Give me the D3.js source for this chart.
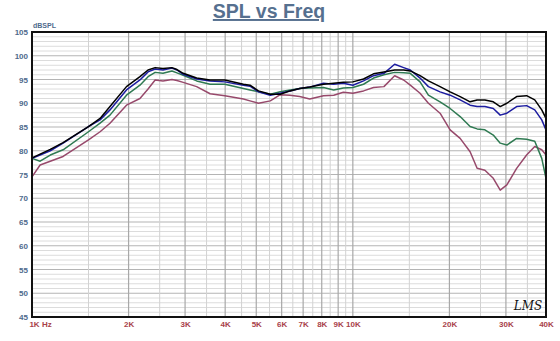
<!DOCTYPE html>
<html>
<head>
<meta charset="utf-8">
<script src="https://cdn.jsdelivr.net/npm/d3@7"></script>
<style>
  html, body { margin: 0; padding: 0; background: #fff; }
  svg { display: block; font-family: "Liberation Sans", Arial, sans-serif; }
</style>
</head>
<body>
<svg id="chart" width="560" height="341"></svg>
<script>
// Frequencies (kHz) at which each response is sampled
const freqsK = [1.0, 1.06, 1.14, 1.25, 1.5, 1.63, 1.75, 1.97, 2.17, 2.3, 2.42, 2.56, 2.73, 2.83, 2.96,
  3.26, 3.59, 3.99, 4.56, 4.78, 5.08, 5.53, 5.94, 6.37, 6.83, 7.34, 8.1, 8.72, 9.34, 10.0, 10.8,
  11.6, 12.5, 13.5, 14.4, 15.1, 16.2, 17.2, 18.7, 20.1, 21.6, 23.2, 24.4, 25.8, 27.4, 28.8, 30.2,
  32.4, 34.8, 36.9, 38.8, 40.0];

// SPL (dB) per curve
const splBlack = [78.5, 79.3, 80.3, 81.7, 85.1, 86.8, 89.3, 93.5, 95.6, 97.0, 97.5, 97.3, 97.5, 97.1, 96.3,
  95.3, 94.9, 94.9, 94.0, 93.8, 92.6, 91.9, 91.9, 92.6, 93.1, 93.4, 94.0, 94.2, 94.4, 94.5, 95.1,
  96.2, 96.6, 97.0, 97.0, 96.8, 95.8, 94.7, 93.5, 92.4, 91.4, 90.3, 90.7, 90.7, 90.3, 89.3, 90.0,
  91.4, 91.6, 90.7, 88.6, 86.8];
const splBlue = [78.4, 79.1, 80.0, 81.6, 85.1, 86.5, 88.6, 92.8, 94.9, 96.6, 97.2, 97.0, 97.4, 97.0, 96.1,
  95.1, 94.7, 94.5, 93.8, 93.6, 92.4, 91.7, 92.1, 92.6, 93.1, 93.4, 94.2, 94.0, 94.2, 93.8, 94.7,
  95.8, 96.3, 98.2, 97.5, 97.0, 95.3, 93.5, 92.4, 91.7, 90.7, 89.6, 89.3, 89.3, 88.9, 87.5, 87.9,
  89.3, 89.5, 88.6, 86.5, 84.4];
const splGreen = [78.4, 77.8, 79.1, 80.2, 84.0, 85.8, 87.5, 91.7, 93.8, 95.6, 96.5, 96.3, 96.8, 96.4, 95.9,
  94.7, 94.0, 94.0, 93.1, 92.8, 92.4, 91.9, 92.4, 92.8, 93.1, 93.2, 93.3, 92.8, 93.2, 93.3, 94.0,
  95.3, 96.0, 96.5, 96.4, 96.3, 94.5, 91.7, 90.3, 88.9, 87.2, 85.1, 84.6, 84.4, 83.3, 81.6, 81.2,
  82.6, 82.4, 82.0, 78.4, 74.2];
const splPink = [74.5, 77.0, 77.8, 78.8, 82.3, 84.0, 85.8, 89.6, 91.0, 93.0, 94.9, 94.7, 95.0, 94.8, 94.4,
  93.5, 92.0, 91.6, 90.9, 90.5, 90.0, 90.5, 91.8, 91.7, 91.4, 90.9, 91.6, 91.7, 92.3, 92.1, 92.6,
  93.3, 93.5, 95.8, 94.9, 93.8, 92.1, 90.0, 87.9, 84.4, 82.6, 79.8, 76.3, 75.9, 74.2, 71.7, 72.8,
  76.3, 79.1, 80.9, 80.2, 79.1];

// Axis ticks
const xTicks = [1000, 2000, 3000, 4000, 5000, 6000, 7000, 8000, 9000, 10000, 20000, 30000, 40000];
const xMinorTicks = [1500, 2500, 3500, 4500, 5500, 6500, 7500, 8500, 9500, 15000, 25000, 35000];
const yTicks = d3.range(45, 106, 5);

const svg = d3.select("#chart");
const plotLeft = 32, plotRight = 546, plotTop = 32, plotBottom = 317;

const x = d3.scaleLog().domain([1000, 40000]).range([plotLeft, plotRight]);
const y = d3.scaleLinear().domain([45, 105]).range([plotBottom, plotTop]);

// Title
svg.append("text")
  .attr("x", 269).attr("y", 18)
  .attr("text-anchor", "middle")
  .attr("font-size", 19.5).attr("font-weight", "bold")
  .attr("fill", "#56708f")
  .attr("text-decoration", "underline")
  .text("SPL vs Freq");

svg.append("text")
  .attr("x", 33).attr("y", 28)
  .attr("font-size", 7).attr("font-weight", "bold")
  .attr("fill", "#4e6a8c")
  .text("dBSPL");

// Grid
const grid = svg.append("g");
grid.append("g").selectAll("line").data(d3.range(46, 105, 1).filter(v => v % 5 !== 0)).join("line")
  .attr("x1", plotLeft).attr("x2", plotRight)
  .attr("y1", d => y(d)).attr("y2", d => y(d))
  .attr("stroke", "#dcdcdc").attr("stroke-width", 1);
grid.append("g").selectAll("line").data(yTicks).join("line")
  .attr("x1", plotLeft).attr("x2", plotRight)
  .attr("y1", d => y(d)).attr("y2", d => y(d))
  .attr("stroke", "#b4b4b4").attr("stroke-width", 1.2);
grid.append("g").selectAll("line").data(xMinorTicks).join("line")
  .attr("x1", d => x(d)).attr("x2", d => x(d))
  .attr("y1", plotTop).attr("y2", plotBottom)
  .attr("stroke", "#d2d2d2").attr("stroke-width", 1);
grid.append("g").selectAll("line").data(xTicks).join("line")
  .attr("x1", d => x(d)).attr("x2", d => x(d))
  .attr("y1", plotTop).attr("y2", plotBottom)
  .attr("stroke", "#a8a8a8").attr("stroke-width", 1.2);

// Curves
const line = d3.line().x(d => x(d[0] * 1000)).y(d => y(d[1]));
const series = [
  { values: splPink, color: "#97496b" },
  { values: splGreen, color: "#2f7a52" },
  { values: splBlue, color: "#1c1ca0" },
  { values: splBlack, color: "#000000" }
];
svg.append("g").selectAll("path").data(series).join("path")
  .attr("d", s => line(freqsK.map((f, i) => [f, s.values[i]])))
  .attr("fill", "none")
  .attr("stroke", s => s.color)
  .attr("stroke-width", 1.5)
  .attr("stroke-linejoin", "round");

// Frame
svg.append("rect")
  .attr("x", plotLeft).attr("y", plotTop)
  .attr("width", plotRight - plotLeft).attr("height", plotBottom - plotTop)
  .attr("fill", "none").attr("stroke", "#111").attr("stroke-width", 2);

// Axes
const xAxis = svg.append("g")
  .attr("transform", `translate(0,${plotBottom})`)
  .call(d3.axisBottom(x).tickValues(xTicks).tickSize(0).tickPadding(4)
    .tickFormat(d => (d / 1000) + "K"));
xAxis.select(".domain").remove();
xAxis.selectAll("text")
  .attr("font-size", 8).attr("font-weight", "bold")
  .attr("font-family", "'Liberation Sans', Arial, sans-serif")
  .attr("fill", "#a8424a");
xAxis.selectAll(".tick").filter(d => d === 1000).select("text").attr("dx", 2);

svg.append("text")
  .attr("x", 42).attr("y", 327)
  .attr("font-size", 8).attr("font-weight", "bold")
  .attr("fill", "#a8424a")
  .text("Hz");

const yAxis = svg.append("g")
  .attr("transform", `translate(${plotLeft},0)`)
  .call(d3.axisLeft(y).tickValues(yTicks).tickSize(0).tickPadding(4));
yAxis.select(".domain").remove();
yAxis.selectAll("text")
  .attr("font-size", 8).attr("font-weight", "bold")
  .attr("font-family", "'Liberation Sans', Arial, sans-serif")
  .attr("fill", "#4e6a8c");

// Logo
svg.append("text")
  .attr("x", 528).attr("y", 310)
  .attr("text-anchor", "middle")
  .attr("font-size", 12).attr("font-style", "italic")
  .attr("font-family", "'DejaVu Serif', serif")
  .attr("fill", "#111")
  .text("LMS");
</script>
</body>
</html>
